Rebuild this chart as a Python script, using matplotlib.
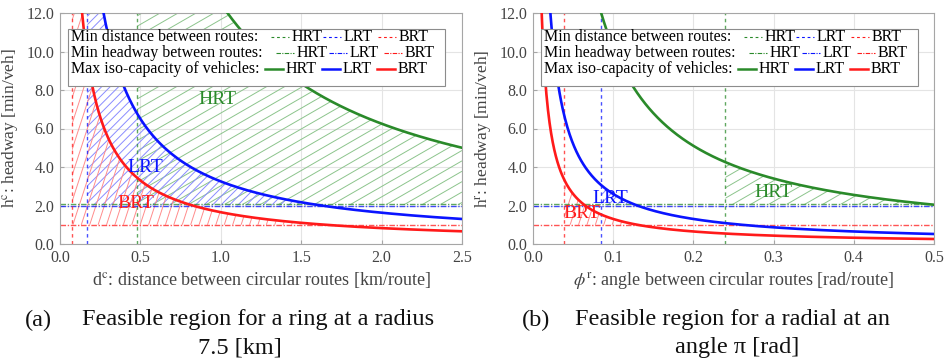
"""
Feasible headway/spacing regions for HRT, LRT and BRT on ring and radial routes.
"""
import numpy as np
import matplotlib
matplotlib.use('Agg')
import matplotlib.pyplot as plt
from matplotlib.patches import Polygon, Rectangle
from matplotlib.collections import LineCollection
from matplotlib.lines import Line2D

plt.rcParams['font.family'] = ['Liberation Serif', 'DejaVu Serif']
plt.rcParams['mathtext.fontset'] = 'stix'

# --- data ---
modes = ['HRT', 'LRT', 'BRT']
mode_colors = ['#2a8a2a', '#0a14ff', '#ff1a1a']
hatch_colors = ['#8cc48c', '#8a8cff', '#ff8c8c']

ring_min_distance = [0.48, 0.17, 0.075]       # km/route
radial_min_angle = [0.24, 0.085, 0.039]       # rad/route
min_headway = [2.06, 2.0, 1.0]                # min/veh
ring_capacity = [12.5, 3.25, 1.65]            # h * d on the iso-capacity curve
radial_capacity = [1.02, 0.26, 0.13]          # h * phi on the iso-capacity curve

ring_xmax, radial_xmax, h_max = 2.5, 0.5, 12.0
ring_xticks = [0.0, 0.5, 1.0, 1.5, 2.0, 2.5]
radial_xticks = [0.0, 0.1, 0.2, 0.3, 0.4, 0.5]
yticks = [0.0, 2.0, 4.0, 6.0, 8.0, 10.0, 12.0]

ring_labels = [(0.98, 7.5), (0.53, 3.95), (0.47, 2.1)]
radial_labels = [(0.30, 2.65), (0.096, 2.34), (0.061, 1.56)]

# hatch angle (deg) and spacing (px) per mode
hatch_angle = [30, 45, 72]
hatch_gap = [9.0, 6.0, 8.0]


def hatch_region(ax, xs, upper, lower, color, angle, gap):
    """Fill the region between two curves with straight hatch lines."""
    verts = np.column_stack([np.r_[xs, xs[::-1]], np.r_[upper, lower[::-1]]])
    poly = Polygon(verts, closed=True, facecolor='none', edgecolor='none',
                   transform=ax.transData)
    ax.add_patch(poly)
    bb = ax.get_window_extent()
    w, h = bb.width, bb.height
    t = np.tan(np.radians(angle))
    step = gap / np.cos(np.radians(angle))
    segs = [[(0, c / h), (1, (t * w + c) / h)]
            for c in np.arange(-t * w - step, h + step, step)]
    lc = LineCollection(segs, transform=ax.transAxes, colors=color,
                        linewidths=0.7, zorder=1)
    lc.set_clip_path(poly)
    ax.add_collection(lc)


def draw_legend(ax, width_px):
    """Three-row legend box with a title on each row."""
    px = lambda v: v / width_px
    ax.add_patch(Rectangle((px(8), 0.684), px(377), 0.247, transform=ax.transAxes,
                           facecolor='white', edgecolor='#8c8c8c', lw=0.8, zorder=5))
    rows = [('Min distance between routes:', (0, (2.5, 2.5)), 0.8, 0.897,
             [211, 263, 318]),
            ('Min headway between routes:', (0, (4, 1.2, 1, 1.2)), 0.8, 0.827,
             [216, 269, 324]),
            ('Max iso-capacity of vehicles:', '-', 1.8, 0.758,
             [205, 262, 317])]
    for title, ls, lw, y, starts in rows:
        ax.text(px(11), y, title, transform=ax.transAxes, fontsize=11.5,
                va='center', ha='left', zorder=6)
        for name, col, x0 in zip(modes, mode_colors, starts):
            ax.add_line(Line2D([px(x0), px(x0 + 18)], [y, y], transform=ax.transAxes,
                               color=col, ls=ls, lw=lw, zorder=6))
            ax.text(px(x0 + 21), y, name, transform=ax.transAxes, fontsize=11.5,
                    va='center', ha='left', zorder=6)


def draw_panel(ax, xmax, min_x, capacity, labels, xticks, xlabel, ylabel):
    for i in range(3):
        x_end = min(xmax, capacity[i] / min_headway[i])
        xs = np.linspace(min_x[i], x_end, 300)
        upper = np.minimum(h_max, capacity[i] / xs)
        lower = np.full_like(xs, min_headway[i])
        hatch_region(ax, xs, upper, lower, hatch_colors[i], hatch_angle[i], hatch_gap[i])

    for i in range(3):
        ax.axvline(min_x[i], color=mode_colors[i], ls=(0, (2.5, 2.5)), lw=1.0,
                   alpha=0.75, zorder=2)
        ax.axhline(min_headway[i], color=mode_colors[i], ls=(0, (4, 1.2, 1, 1.2)),
                   lw=1.0, alpha=0.75, zorder=2)

    for i in range(3):
        xs = np.linspace(capacity[i] / h_max, xmax, 500)
        ax.plot(xs, capacity[i] / xs, color=mode_colors[i], lw=1.9, zorder=3)
        ax.text(labels[i][0], labels[i][1], modes[i], color=mode_colors[i],
                fontsize=14, ha='center', va='center', zorder=4)

    ax.set_xlim(0, xmax)
    ax.set_ylim(0, h_max)
    ax.set_xticks(xticks)
    ax.set_xticklabels(['%.1f' % v for v in xticks])
    ax.set_yticks(yticks)
    ax.set_yticklabels(['%.1f' % v for v in yticks])
    ax.grid(True, color='#e4e4e4', lw=0.8, zorder=0)
    ax.set_axisbelow(True)
    for s in ax.spines.values():
        s.set_color('#a6a6a6')
        s.set_linewidth(0.8)
    ax.tick_params(colors='#a6a6a6', labelcolor='#444444', labelsize=11.5,
                   direction='in', length=3, pad=4)
    ax.set_xlabel(xlabel, fontsize=13, color='#444444', labelpad=3)
    ax.set_ylabel(ylabel, fontsize=12.5, color='#444444', labelpad=4)
    draw_legend(ax, ax.get_window_extent().width)


fig = plt.figure(figsize=(9.44, 3.64), dpi=100)
ax1 = fig.add_axes([60 / 944, 1 - 244 / 364, 402 / 944, 231 / 364])
ax2 = fig.add_axes([533 / 944, 1 - 244 / 364, 401 / 944, 231 / 364])

draw_panel(ax1, ring_xmax, ring_min_distance, ring_capacity, ring_labels, ring_xticks,
           r'd$^{\rm c}$: distance between circular routes [km/route]',
           r'h$^{\rm c}$: headway [min/veh]')
draw_panel(ax2, radial_xmax, radial_min_angle, radial_capacity, radial_labels, radial_xticks,
           r'$\phi^{\rm r}$: angle between circular routes [rad/route]',
           r'h$^{\rm r}$: headway [min/veh]')

cap = dict(fontsize=17.5, va='center', color='#111111')
fig.text(25 / 944, 1 - 320 / 364, '(a)', ha='left', **cap)
fig.text(82 / 944, 1 - 320 / 364, 'Feasible region for a ring at a radius', ha='left', **cap)
fig.text(240 / 944, 1 - 348 / 364, '7.5 [km]', ha='center', **cap)
fig.text(522 / 944, 1 - 320 / 364, '(b)', ha='left', **cap)
fig.text(575 / 944, 1 - 320 / 364, 'Feasible region for a radial at an', ha='left', **cap)
fig.text(737 / 944, 1 - 348 / 364, 'angle \u03c0 [rad]', ha='center', **cap)

fig.savefig('out.png', dpi=100)
plt.close(fig)
